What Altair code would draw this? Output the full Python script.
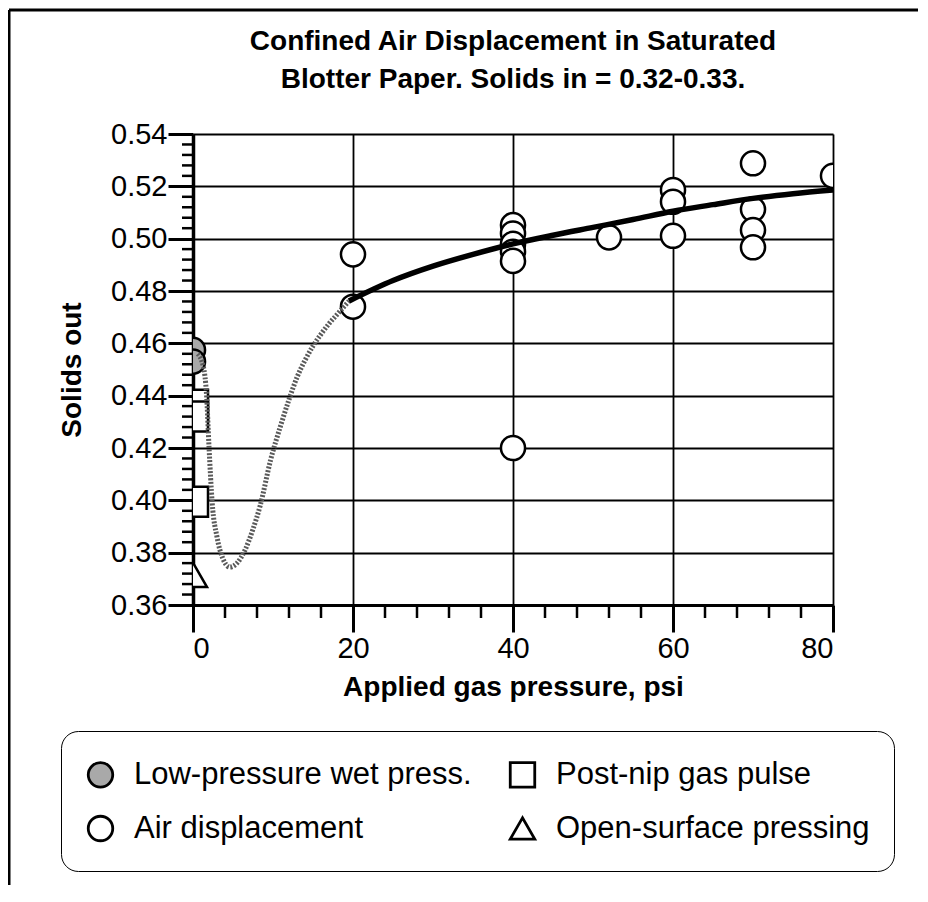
import altair as alt
import pandas as pd

FONT = "Liberation Sans"

# legend order (filled column by column)
series_names = ["Low-pressure wet press.", "Air displacement",
                "Post-nip gas pulse", "Open-surface pressing"]
series_shapes = ["circle", "circle", "square", "triangle-up"]
series_fills = ["#a9a9a9", "white", "white", "white"]
series_strokes = ["black", "black", "black", "black"]
marker_area = {"Low-pressure wet press.": 580, "Post-nip gas pulse": 900,
               "Air displacement": 580, "Open-surface pressing": 784}

# Low-pressure wet press (grey circles)
low_x = [0, 0]
low_y = [0.4575, 0.4530]
# Post-nip gas pulse (squares)
post_x = [0, 0, 0]
post_y = [0.4365, 0.4320, 0.3995]
# Air displacement (open circles)
air_x = [20, 20, 40, 40, 40, 40, 40, 40, 52, 60, 60, 60, 70, 70, 70, 70, 80]
air_y = [0.494, 0.474, 0.5052, 0.502, 0.498, 0.495, 0.4915, 0.420, 0.5005,
         0.5186, 0.5141, 0.5011, 0.5288, 0.5112, 0.5033, 0.4967, 0.524]
# Open-surface pressing (triangle)
open_x = [0]
open_y = [0.3715]

# solid black fit curve
fit_x = [19.5, 25, 30, 35, 40, 45, 50, 55, 60, 65, 70, 75, 80]
fit_y = [0.4762, 0.4840, 0.4895, 0.4940, 0.4980, 0.5013, 0.5043, 0.5073,
         0.5105, 0.5130, 0.5154, 0.5172, 0.5186]

# grey dotted curve
wet_x = [0.6, 1.3, 1.7, 2.0, 2.4, 3.0, 3.7, 4.6, 5.5, 6.5, 7.5, 8.4, 9.7,
         11, 12, 13, 14, 15, 16, 17, 18, 19.5]
wet_y = [0.4560, 0.451, 0.440, 0.4205, 0.399, 0.386, 0.378, 0.3745, 0.376,
         0.381, 0.389, 0.398, 0.4154, 0.429, 0.4385, 0.447, 0.4535, 0.459,
         0.4635, 0.4675, 0.471, 0.4762]

x_ticks = [0, 20, 40, 60, 80]
y_ticks = [0.36, 0.38, 0.40, 0.42, 0.44, 0.46, 0.48, 0.50, 0.52, 0.54]
x_minor = [4, 8, 12, 16, 24, 28, 32, 36, 44, 48, 52, 56, 64, 68, 72, 76]
y_minor = [0.364, 0.368, 0.372, 0.376, 0.384, 0.388, 0.392, 0.396,
           0.404, 0.408, 0.412, 0.416, 0.424, 0.428, 0.432, 0.436,
           0.444, 0.448, 0.452, 0.456, 0.464, 0.468, 0.472, 0.476,
           0.484, 0.488, 0.492, 0.496, 0.504, 0.508, 0.512, 0.516,
           0.524, 0.528, 0.532, 0.536]

title_lines = ["Confined Air Displacement in Saturated",
               "Blotter Paper. Solids in = 0.32-0.33."]

W, H = 640, 471
PAD = {"left": 185, "top": 126, "right": 85, "bottom": 280}

rows = []
for name, xs, ys in [("Low-pressure wet press.", low_x, low_y),
                     ("Post-nip gas pulse", post_x, post_y),
                     ("Air displacement", air_x, air_y),
                     ("Open-surface pressing", open_x, open_y)]:
    for a, b in zip(xs, ys):
        rows.append({"x": a, "y": b, "series": name, "msize": marker_area[name]})
pts = pd.DataFrame(rows)
fit_df = pd.DataFrame({"x": fit_x, "y": fit_y})
wet_df = pd.DataFrame({"x": wet_x, "y": wet_y})
xmin_df = pd.DataFrame({"x": x_minor})
ymin_df = pd.DataFrame({"y": y_minor})
one = pd.DataFrame({"k": [0]})

xscale = alt.Scale(domain=[0, 80], nice=False, zero=False)
yscale = alt.Scale(domain=[0.36, 0.54], nice=False, zero=False)

xaxis = alt.Axis(values=x_ticks, format="d", grid=True, gridColor="black",
                 gridWidth=1.8, gridOpacity=1, tickSize=27, tickWidth=3,
                 tickColor="black", domainColor="black", domainWidth=3,
                 labelFontSize=29, labelFont=FONT, labelColor="black",
                 labelPadding=2, title="Applied gas pressure, psi",
                 titleFont=FONT, titleFontSize=28, titleFontWeight="bold",
                 titleColor="black", titlePadding=10)
yaxis = alt.Axis(values=y_ticks, format=".2f", grid=True, gridColor="black",
                 gridWidth=1.8, gridOpacity=1, tickSize=25, tickWidth=3,
                 tickColor="black", domainColor="black", domainWidth=3.5,
                 labelFontSize=29, labelFont=FONT, labelColor="black",
                 labelPadding=1, title="Solids out", titleFont=FONT,
                 titleFontSize=28, titleFontWeight="bold", titleColor="black",
                 titlePadding=24)

legend = alt.Legend(orient="none", legendX=-132, legendY=597, columns=2,
                    fillColor="white", strokeColor="black", cornerRadius=17,
                    padding=24,
                    labelFont=FONT, labelFontSize=31, labelColor="black",
                    labelLimit=0, labelOffset=18, symbolSize=600,
                    symbolStrokeWidth=2.8, symbolStrokeColor="black",
                    rowPadding=17, columnPadding=32, gridAlign="each",
                    title=" ", titleFontSize=2, titlePadding=2)

points = alt.Chart(pts).mark_point(filled=False, strokeWidth=2.5,
                                   opacity=1, clip=True).encode(
    x=alt.X("x:Q", scale=xscale, axis=xaxis),
    y=alt.Y("y:Q", scale=yscale, axis=yaxis),
    shape=alt.Shape("series:N", scale=alt.Scale(domain=series_names, range=series_shapes),
                    legend=legend),
    fill=alt.Fill("series:N", scale=alt.Scale(domain=series_names, range=series_fills),
                  legend=legend),
    stroke=alt.Stroke("series:N", scale=alt.Scale(domain=series_names, range=series_strokes),
                      legend=legend),
    size=alt.Size("msize:Q", scale=None),
)

wet_line = alt.Chart(wet_df).mark_line(color="#5a5a5a", strokeWidth=5,
                                       strokeDash=[2, 1.6], interpolate="monotone",
                                       clip=True).encode(
    x=alt.X("x:Q", scale=xscale), y=alt.Y("y:Q", scale=yscale))

fit_line = alt.Chart(fit_df).mark_line(color="black", strokeWidth=5.5,
                                       interpolate="monotone", clip=True).encode(
    x=alt.X("x:Q", scale=xscale), y=alt.Y("y:Q", scale=yscale))

x_minor_ticks = alt.Chart(xmin_df).mark_rule(color="black", strokeWidth=2.5).encode(
    x=alt.X("x:Q", scale=xscale), y=alt.value(H), y2=alt.value(H + 13))

y_minor_ticks = alt.Chart(ymin_df).mark_rule(color="black", strokeWidth=2.5).encode(
    y=alt.Y("y:Q", scale=yscale), x=alt.value(-11), x2=alt.value(0))

frame_top = alt.Chart(one).mark_rule(color="black", strokeWidth=3).encode(
    x=alt.value(-184), x2=alt.value(W + PAD["right"]), y=alt.value(-124))
frame_left = alt.Chart(one).mark_rule(color="black", strokeWidth=3).encode(
    x=alt.value(-184), y=alt.value(-124), y2=alt.value(H + PAD["bottom"]))

chart = alt.layer(
    points, wet_line, fit_line, x_minor_ticks, y_minor_ticks, frame_top, frame_left
).properties(
    width=W, height=H,
    title=alt.TitleParams(text=title_lines, font=FONT, fontSize=28,
                          fontWeight="bold", color="black", lineHeight=38,
                          anchor="middle", frame="group", offset=-85),
    autosize=alt.AutoSizeParams(type="none"),
    padding=PAD,
).configure_view(stroke="black", strokeWidth=3
).configure_legend(strokeColor="black", strokeWidth=2.5, cornerRadius=17
).configure(background="white")

chart.save("out.html", embed_options={"renderer": "svg", "actions": False})
